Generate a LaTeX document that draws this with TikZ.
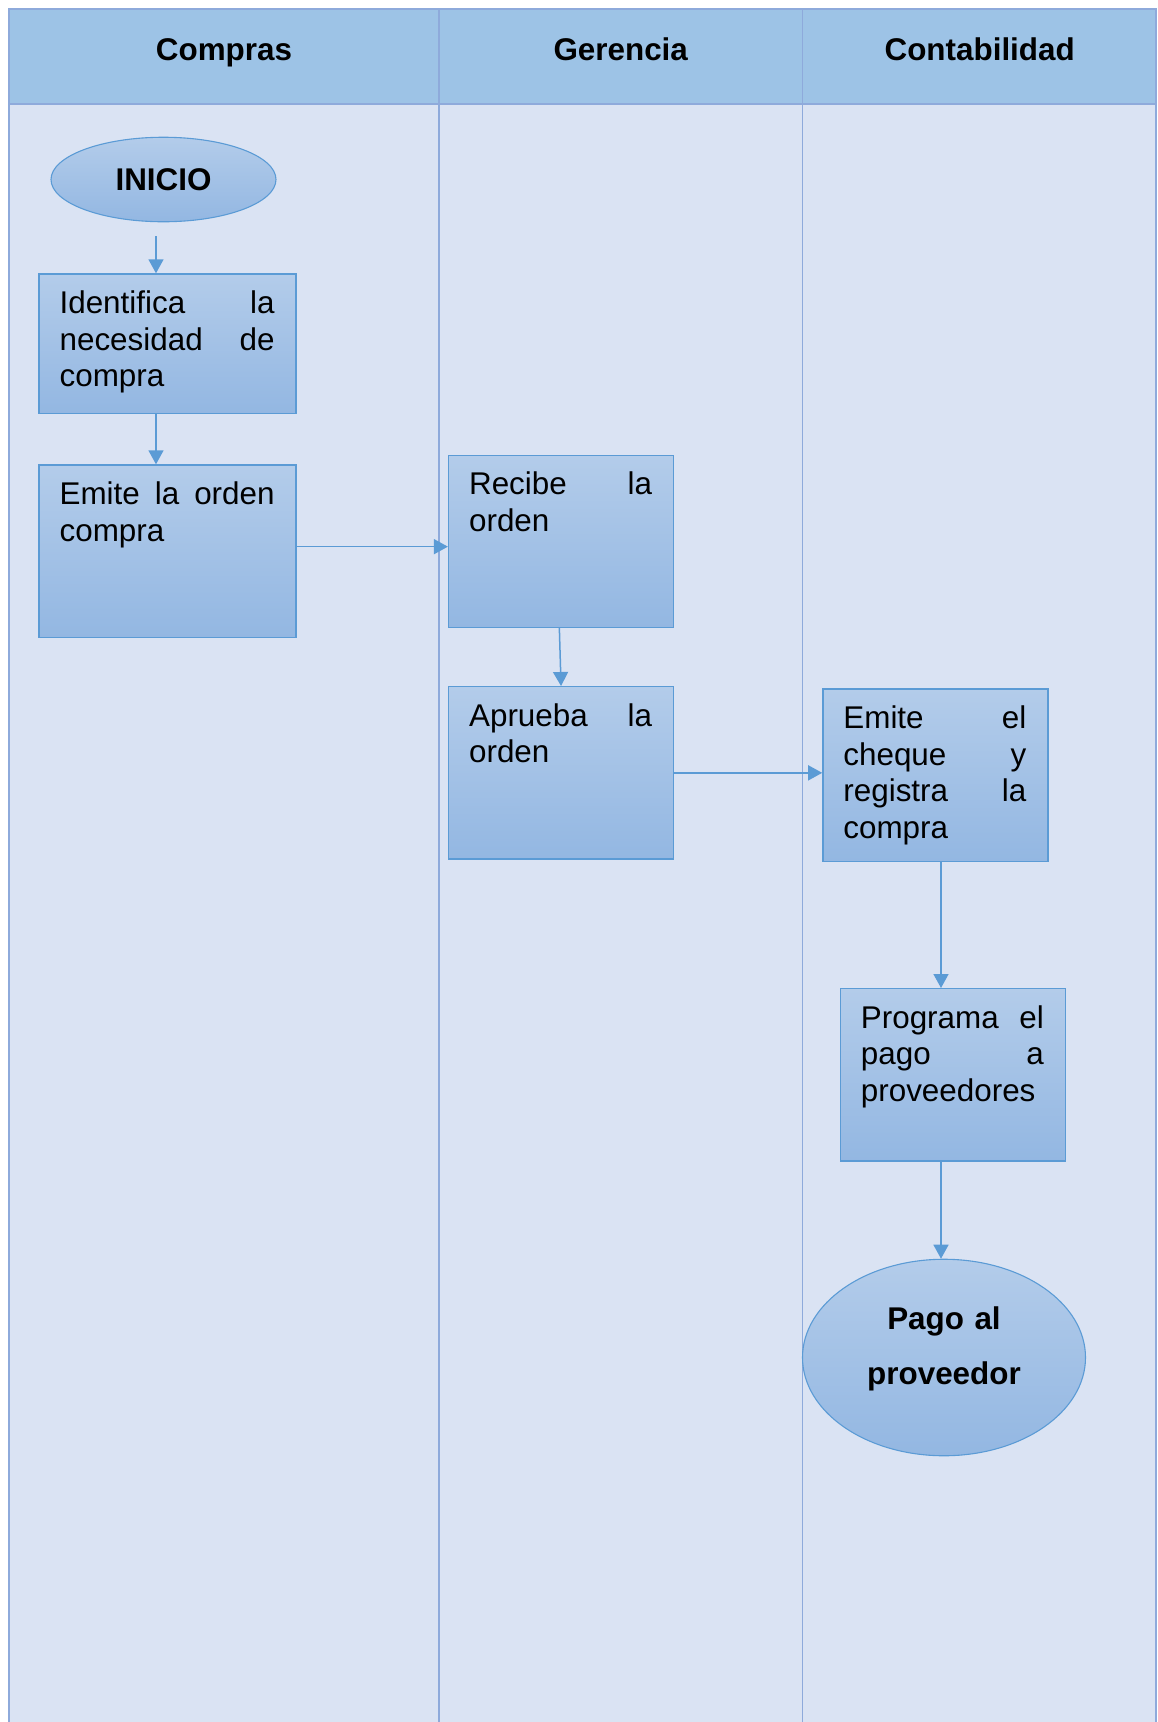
\documentclass[tikz,border=0pt]{standalone}
\usepackage{fontspec}
\setmainfont{Liberation Sans}
\usetikzlibrary{arrows.meta,shapes.geometric,calc}
\definecolor{hdrfill}{HTML}{9DC3E6}
\definecolor{lanefill}{HTML}{DAE3F3}
\definecolor{gridc}{HTML}{8EAADB}
\definecolor{accent}{HTML}{5B9BD5}
\definecolor{boxtop}{HTML}{B3CCEA}
\definecolor{boxbot}{HTML}{93B7E2}
\begin{document}
\begin{tikzpicture}[x=1pt,y=-1pt,
  procbox/.style={draw=accent, line width=1.3pt, top color=boxtop, bottom color=boxbot, rectangle, inner sep=0pt, anchor=north west},
  proctext/.style={anchor=base west, inner sep=0pt, align=left, font=\fontsize{31.4}{36.8}\selectfont},
  termnode/.style={draw=accent, line width=1.1pt, top color=boxtop, bottom color=boxbot, ellipse, inner sep=0pt},
  arr/.style={draw=accent, line width=1.5pt, -{Triangle[length=14pt,width=15pt]}},
  hdr/.style={anchor=base, inner sep=0pt, font=\fontsize{31.4}{36.8}\selectfont\bfseries},
]
\useasboundingbox (0,0) rectangle (1157,1722);
\begin{scope}
\clip (0,0) rectangle (1157,1722);
\fill[lanefill] (8.8,104) rectangle (1157,1730);
\fill[hdrfill] (8.8,8.8) rectangle (1157,104);
\draw[gridc, line width=2pt] (8.8,1730) -- (8.8,8.8) -- (1156,8.8) -- (1156,1730);
\draw[gridc, line width=2pt] (8.8,104) -- (1156,104);
\draw[gridc, line width=1.5pt] (439,8.8) -- (439,1730);
\draw[gridc, line width=1.5pt] (802.5,8.8) -- (802.5,1730);
\end{scope}

% headers
\node[hdr] (h1) at (224,60) {Compras};
\node[hdr] (h2) at (620.7,60) {Gerencia};
\node[hdr] (h3) at (979.7,60) {Contabilidad};

% start
\node[termnode, minimum width=225pt, minimum height=84.5pt, font=\fontsize{31.4}{36.8}\selectfont\bfseries] (inicio) at (163.5,179.5) {INICIO};

% process boxes
\node[procbox, minimum width=257pt, minimum height=139.4pt] (b1) at (38.4,273.3) {};
\node[proctext, text width=215pt] (t1) at ([xshift=21pt,yshift=-40pt]b1.north west) {Identifica\hfill la\\necesidad\hfill de\\compra};

\node[procbox, minimum width=257pt, minimum height=172.4pt] (b2) at (38.4,464.3) {};
\node[proctext, text width=215pt] (t2) at ([xshift=21pt,yshift=-40pt]b2.north west) {Emite\hfill la\hfill orden\\compra};

\node[procbox, minimum width=225pt, minimum height=172.3pt] (b3) at (447.9,454.5) {};
\node[proctext, text width=183pt] (t3) at ([xshift=21pt,yshift=-40pt]b3.north west) {Recibe\hfill la\\orden};

\node[procbox, minimum width=225pt, minimum height=172.4pt] (b4) at (447.9,686) {};
\node[proctext, text width=183pt] (t4) at ([xshift=21pt,yshift=-40pt]b4.north west) {Aprueba\hfill la\\orden};

\node[procbox, minimum width=225pt, minimum height=172.3pt] (b5) at (822.2,688.3) {};
\node[proctext, text width=183pt] (t5) at ([xshift=21pt,yshift=-40pt]b5.north west) {Emite\hfill el\\cheque\hfill y\\registra\hfill la\\compra};

\node[procbox, minimum width=225pt, minimum height=172.3pt] (b6) at (839.7,988) {};
\node[proctext, text width=183pt] (t6) at ([xshift=21pt,yshift=-40pt]b6.north west) {Programa\hfill el\\pago\hfill a\\proveedores};

% end
\node[termnode, minimum width=283pt, minimum height=196.5pt] (fin) at (944,1357.5) {};
\node[anchor=base, inner sep=0pt, text width=260pt, align=center, font=\fontsize{31.4}{55}\selectfont\bfseries] (fint) at (944,1329) {Pago al\\proveedor};

% connectors
\coordinate (s0) at (156,236);
\coordinate (cx) at (941,0);
\draw[arr] (s0) -- (s0 |- b1.north);
\draw[arr] (b1.south -| s0) -- (b2.north -| s0);
\draw[arr] ([yshift=4.5pt]b2.east) -- ([yshift=4.5pt]b2.east -| b3.west);
\draw[arr] ([xshift=-1.7pt]b3.south) -- (b4.north);
\draw[arr] (b4.east) -- (b4.east -| b5.west);
\draw[arr] (b5.south -| cx) -- (b6.north -| cx);
\draw[arr] (b6.south -| cx) -- (fin.north -| cx);
\end{tikzpicture}
\end{document}
